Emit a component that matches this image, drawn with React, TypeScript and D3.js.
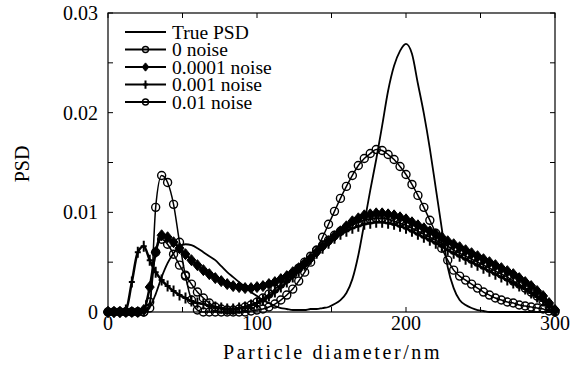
import React from "react";
import * as d3 from "d3";

// Particle diameter (nm)
const diameters = [0,4,8,12,16,20,24,28,32,36,40,44,48,52,56,60,64,68,72,76,80,84,88,92,96,100,104,108,112,116,120,124,128,132,136,140,144,148,152,156,160,164,168,172,176,180,184,188,192,196,200,204,208,212,216,220,224,228,232,236,240,244,248,252,256,260,264,268,272,276,280,284,288,292,296,300];

const truePSD = [0,0,0,0,0,0,0.0001,0.0005,0.0018,0.0035,0.0049,0.0059,0.0066,0.0068,0.0067,0.0064,0.0060,0.0056,0.0052,0.0046,0.0040,0.0035,0.0030,0.0025,0.0020,0.0016,0.0012,0.0009,0.0006,0.0004,0.0003,0.0002,0.0002,0.0002,0.0003,0.0003,0.0004,0.0005,0.0008,0.0012,0.0019,0.0033,0.0057,0.0089,0.0122,0.0153,0.0187,0.0222,0.0247,0.0262,0.0269,0.0259,0.0229,0.0199,0.0164,0.0124,0.0084,0.0045,0.0024,0.0012,0.0007,0.0004,0.0002,0.0001,0,0,0,0,0,0,0,0,0,0,0,0];

const noise0 = [0,0,0,0,0,0,0,0.0004,0.0105,0.0137,0.0130,0.0108,0.0070,0.0036,0.0012,0.0002,0,0,0,0,0,0,0,0,0.0001,0.0002,0.0003,0.0005,0.0008,0.0012,0.0017,0.0023,0.0031,0.0040,0.0050,0.0062,0.0075,0.0088,0.0101,0.0114,0.0126,0.0137,0.0147,0.0154,0.0159,0.0163,0.0162,0.0158,0.0153,0.0146,0.0138,0.0128,0.0117,0.0105,0.0092,0.0079,0.0064,0.0052,0.0042,0.0036,0.0032,0.0028,0.0024,0.0020,0.0017,0.0014,0.0012,0.0010,0.0009,0.0007,0.0006,0.0005,0.0004,0.0003,0.0001,0];

const noise1e4 = [0,0,0,0,0,0,0.0002,0.0025,0.0060,0.0077,0.0075,0.0070,0.0064,0.0058,0.0052,0.0047,0.0042,0.0038,0.0034,0.0031,0.0028,0.0026,0.0025,0.0024,0.0024,0.0025,0.0026,0.0028,0.0030,0.0033,0.0036,0.0040,0.0044,0.0049,0.0054,0.0060,0.0066,0.0071,0.0076,0.0081,0.0086,0.0091,0.0094,0.0097,0.0098,0.0099,0.0099,0.0098,0.0097,0.0095,0.0093,0.0090,0.0087,0.0084,0.0081,0.0078,0.0075,0.0071,0.0068,0.0065,0.0062,0.0059,0.0056,0.0053,0.0050,0.0047,0.0044,0.0041,0.0038,0.0034,0.0030,0.0026,0.0021,0.0016,0.0009,0.0002];

const noise1e3 = [0,0,0,0.0002,0.0030,0.0060,0.0066,0.0052,0.0040,0.0032,0.0026,0.0021,0.0017,0.0014,0.0011,0.0009,0.0008,0.0006,0.0005,0.0004,0.0003,0.0003,0.0004,0.0005,0.0007,0.0009,0.0012,0.0016,0.0020,0.0025,0.0030,0.0035,0.0041,0.0047,0.0053,0.0059,0.0064,0.0069,0.0074,0.0078,0.0081,0.0084,0.0086,0.0088,0.0089,0.0090,0.0090,0.0089,0.0088,0.0086,0.0084,0.0081,0.0078,0.0075,0.0072,0.0069,0.0066,0.0062,0.0059,0.0056,0.0053,0.0050,0.0047,0.0044,0.0041,0.0038,0.0035,0.0032,0.0029,0.0026,0.0023,0.0019,0.0015,0.0011,0.0006,0.0001];

const noise1e2 = [0,0,0,0,0,0,0,0.0010,0.0060,0.0073,0.0068,0.0058,0.0047,0.0037,0.0028,0.0020,0.0014,0.0009,0.0005,0.0003,0.0002,0.0002,0.0003,0.0005,0.0007,0.0010,0.0014,0.0018,0.0023,0.0028,0.0033,0.0038,0.0044,0.0050,0.0056,0.0062,0.0067,0.0072,0.0077,0.0081,0.0085,0.0088,0.0090,0.0092,0.0093,0.0094,0.0094,0.0093,0.0091,0.0089,0.0087,0.0084,0.0081,0.0078,0.0075,0.0072,0.0069,0.0066,0.0062,0.0059,0.0056,0.0053,0.0050,0.0047,0.0044,0.0041,0.0038,0.0035,0.0031,0.0028,0.0024,0.0020,0.0016,0.0011,0.0006,0.0001];

const seriesNames = ["True PSD", "0 noise", "0.0001 noise", "0.001 noise", "0.01 noise"];
const xTicks = [0, 100, 200, 300];
const xMinorTicks = [0, 50, 100, 150, 200, 250, 300];
const yTicks = [0, 0.01, 0.02, 0.03];
const yTickLabels = ["0", "0.01", "0.02", "0.03"];
const yMinorTicks = [0, 0.005, 0.01, 0.015, 0.02, 0.025, 0.03];

const W = 584, H = 371;
const L = 108, R = 555, T = 13, B = 312;
const FONT = "'Liberation Serif', 'Times New Roman', serif";

type Marker = "none" | "circle" | "diamond" | "plus";

function MarkerShape({ type, cx, cy, big = true }: { type: Marker; cx: number; cy: number; big?: boolean }) {
  const k = big ? 1 : 0.75;
  if (type === "circle")
    return <circle cx={cx} cy={cy} r={4 * k} fill="none" stroke="#000" strokeWidth={1.4} />;
  if (type === "diamond")
    return <path d={`M${cx},${cy - 5.5 * k}L${cx + 4.5 * k},${cy}L${cx},${cy + 5.5 * k}L${cx - 4.5 * k},${cy}Z`} fill="#000" stroke="#000" strokeWidth={1} />;
  if (type === "plus")
    return <path d={`M${cx},${cy - 5.5 * k}V${cy + 5.5 * k}M${cx - 3 * k},${cy}H${cx + 3 * k}`} stroke="#000" strokeWidth={2} fill="none" />;
  return null;
}

export default function App() {
  const x = d3.scaleLinear().domain([0, 300]).range([L, R]);
  const y = d3.scaleLinear().domain([0, 0.03]).range([B, T]);
  const line = d3.line<number>().x((_, i) => x(diameters[i])).y((v) => y(v)).curve(d3.curveMonotoneX);

  const series: { name: string; values: number[]; marker: Marker; width: number }[] = [
    { name: seriesNames[4], values: noise1e2, marker: "circle", width: 1.5 },
    { name: seriesNames[3], values: noise1e3, marker: "plus", width: 2.5 },
    { name: seriesNames[2], values: noise1e4, marker: "diamond", width: 2.5 },
    { name: seriesNames[1], values: noise0, marker: "circle", width: 1.5 },
    { name: seriesNames[0], values: truePSD, marker: "none", width: 1.8 },
  ];

  const legend: { name: string; marker: Marker }[] = [
    { name: seriesNames[0], marker: "none" },
    { name: seriesNames[1], marker: "circle" },
    { name: seriesNames[2], marker: "diamond" },
    { name: seriesNames[3], marker: "plus" },
    { name: seriesNames[4], marker: "circle" },
  ];
  const legendY = [32, 49.5, 67, 84.5, 102];

  return (
    <svg width={W} height={H} style={{ position: "absolute", left: 0, top: 0, background: "#fff" }} fontFamily={FONT}>
      <rect x={0} y={0} width={W} height={H} fill="#fff" />
      {/* frame */}
      <rect x={L} y={T} width={R - L} height={B - T} fill="none" stroke="#000" strokeWidth={1.2} />
      {xMinorTicks.map((t) => (
        <g key={"xt" + t}>
          <line x1={x(t)} x2={x(t)} y1={B} y2={B - 5} stroke="#000" strokeWidth={1} />
          <line x1={x(t)} x2={x(t)} y1={T} y2={T + 5} stroke="#000" strokeWidth={1} />
        </g>
      ))}
      {yMinorTicks.map((t) => (
        <g key={"yt" + t}>
          <line x1={L} x2={L + 5} y1={y(t)} y2={y(t)} stroke="#000" strokeWidth={1} />
          <line x1={R} x2={R - 5} y1={y(t)} y2={y(t)} stroke="#000" strokeWidth={1} />
        </g>
      ))}
      {xTicks.map((t) => (
        <text key={"xl" + t} x={x(t)} y={330} textAnchor="middle" fontSize={20}>{t}</text>
      ))}
      {yTicks.map((t, i) => (
        <text key={"yl" + t} x={98} y={y(t) + 7} textAnchor="end" fontSize={20}>{yTickLabels[i]}</text>
      ))}
      <text x={(L + R) / 2 + 1} y={359} textAnchor="middle" fontSize={20} letterSpacing={2.6}>Particle diameter/nm</text>
      <text transform={`translate(29,164) rotate(-90)`} textAnchor="middle" fontSize={20}>PSD</text>

      {/* series */}
      {series.map((s) => (
        <g key={s.name}>
          <path d={line(s.values) || ""} fill="none" stroke="#000" strokeWidth={s.width} strokeLinejoin="round" strokeLinecap="round" />
          {s.marker !== "none" &&
            s.values.map((v, i) => (
              <MarkerShape key={i} type={s.marker} cx={x(diameters[i])} cy={y(v)} />
            ))}
        </g>
      ))}

      {/* legend */}
      {legend.map((l, i) => (
        <g key={"lg" + l.name}>
          <line x1={125} x2={166} y1={legendY[i]} y2={legendY[i]} stroke="#000" strokeWidth={2} />
          <MarkerShape type={l.marker} cx={145.5} cy={legendY[i]} big={false} />
          <text x={172} y={legendY[i] + 6.5} fontSize={19.5}>{l.name}</text>
        </g>
      ))}
    </svg>
  );
}
